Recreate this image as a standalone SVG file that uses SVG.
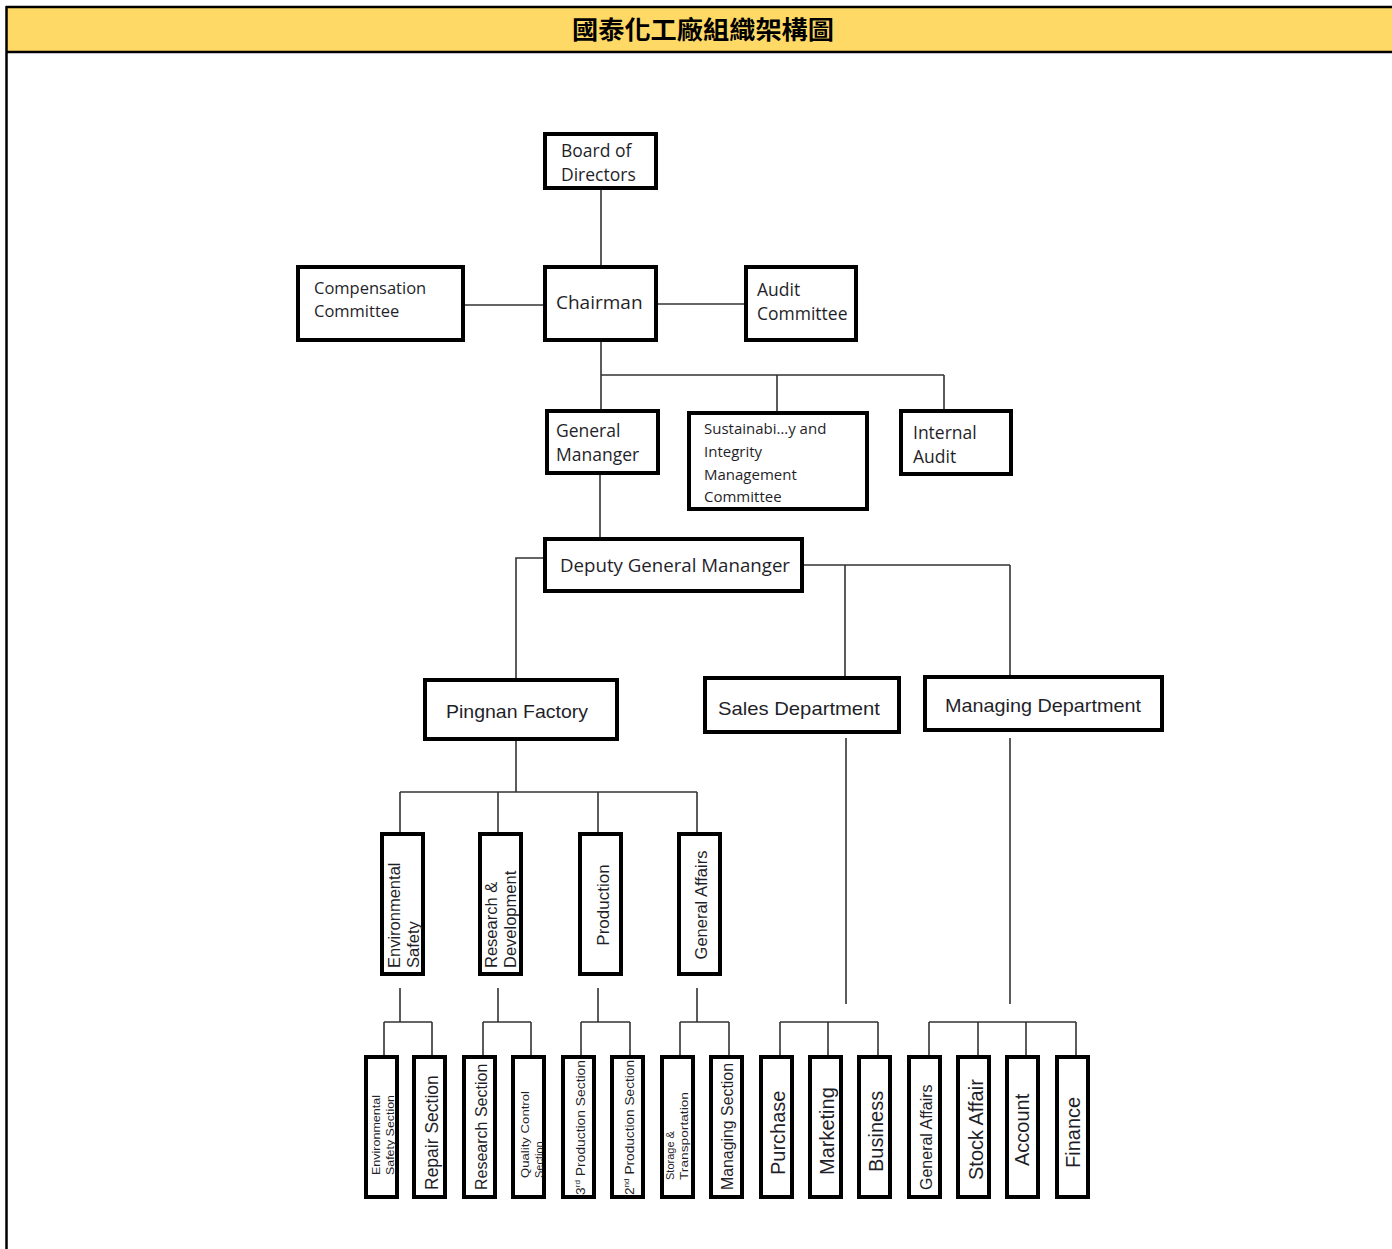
<svg xmlns="http://www.w3.org/2000/svg" width="1392" height="1249" viewBox="0 0 1392 1249">
<style>
.box{fill:#fff;stroke:#000;stroke-width:4}
.ln{fill:none;stroke:#333;stroke-width:1.6}
.t1{font-family:"Open Sans","DejaVu Sans",sans-serif;fill:#1f1f2a}
.t2{font-family:"Liberation Sans",Arial,sans-serif;fill:#1f1f2a}
</style>
<rect x="0" y="0" width="1392" height="1249" fill="#fff"/>
<rect x="6" y="6" width="1390" height="46" fill="#FFD966"/>
<line x1="6" y1="7" x2="1392" y2="7" stroke="#000" stroke-width="2.5"/>
<line x1="6" y1="52" x2="1392" y2="52" stroke="#000" stroke-width="2.5"/>
<line x1="6.5" y1="6" x2="6.5" y2="1249" stroke="#000" stroke-width="2.5"/>
<text x="703" y="39" text-anchor="middle" font-family="'Noto Sans CJK TC','Noto Sans CJK SC',sans-serif" font-size="25" font-weight="bold" fill="#000" textLength="262" lengthAdjust="spacingAndGlyphs">國泰化工廠組織架構圖</text>

<g id="connectors">
<path class="ln" d="M601 189V266M464 305H544M657 304H745M601 341V410M601 375H944M777 375V412M944 375V410"/>
<path class="ln" d="M600 474V538M544 558H516V679M803 565H1010M845 565V677M1010 565V676"/>
<path class="ln" d="M516 740V792M400 792H697M400 792V833M498 792V833M598 792V833M697 792V833"/>
<path class="ln" d="M400 988V1022M384 1022H432M384 1022V1056M432 1022V1056"/>
<path class="ln" d="M498 988V1022M483 1022H531M483 1022V1056M531 1022V1056"/>
<path class="ln" d="M598 988V1022M581 1022H630M581 1022V1056M630 1022V1056"/>
<path class="ln" d="M697 988V1022M680 1022H729M680 1022V1056M729 1022V1056"/>
<path class="ln" d="M846 738V1004M780 1022H878M780 1022V1056M828 1022V1056M878 1022V1056"/>
<path class="ln" d="M1010 738V1004M929 1022H1076M929 1022V1056M978 1022V1056M1026 1022V1056M1076 1022V1056"/>
</g>

<g id="board"><rect class="box" x="545" y="134" width="111" height="54"/>
<text class="t1" font-size="17.5"><tspan x="561" y="157">Board of</tspan><tspan x="561" y="181">Directors</tspan></text></g>
<g id="chairman"><rect class="box" x="545" y="267" width="111" height="73"/>
<text class="t1" font-size="19" x="556" y="309">Chairman</text></g>
<g id="compensation"><rect class="box" x="298" y="267" width="165" height="73"/>
<text class="t1" font-size="16.5"><tspan x="314" y="294">Compensation</tspan><tspan x="314" y="317">Committee</tspan></text></g>
<g id="audit"><rect class="box" x="746" y="267" width="110" height="73"/>
<text class="t1" font-size="17.5"><tspan x="757" y="296">Audit</tspan><tspan x="757" y="320">Committee</tspan></text></g>
<g id="gm"><rect class="box" x="547" y="411" width="111" height="62"/>
<text class="t1" font-size="17.5"><tspan x="556" y="437">General</tspan><tspan x="556" y="461">Mananger</tspan></text></g>
<g id="sustainability"><rect class="box" x="689" y="413" width="178" height="96"/>
<text class="t1" font-size="15"><tspan x="704" y="434">Sustainabi…y and</tspan><tspan x="704" y="457">Integrity</tspan><tspan x="704" y="480">Management</tspan><tspan x="704" y="502">Committee</tspan></text></g>
<g id="internal-audit"><rect class="box" x="901" y="411" width="110" height="63"/>
<text class="t1" font-size="17.5"><tspan x="913" y="439">Internal</tspan><tspan x="913" y="463">Audit</tspan></text></g>
<g id="deputy"><rect class="box" x="545" y="539" width="257" height="52"/>
<text class="t1" font-size="18" x="560" y="572" textLength="230" lengthAdjust="spacingAndGlyphs">Deputy General Mananger</text></g>
<g id="pingnan"><rect class="box" x="425" y="680" width="192" height="59"/>
<text class="t2" font-size="19" x="517" y="718" text-anchor="middle" textLength="142" lengthAdjust="spacingAndGlyphs">Pingnan Factory</text></g>
<g id="sales"><rect class="box" x="705" y="678" width="194" height="54"/>
<text class="t2" font-size="19" x="718" y="715" textLength="162" lengthAdjust="spacingAndGlyphs">Sales Department</text></g>
<g id="managing"><rect class="box" x="925" y="677" width="237" height="53"/>
<text class="t2" font-size="19" x="945" y="712" textLength="196" lengthAdjust="spacingAndGlyphs">Managing Department</text></g>

<g id="env-safety"><rect class="box" x="382" y="834" width="41" height="140"/>
<text class="t2" font-size="16.5" transform="translate(400,968) rotate(-90)">Environmental</text>
<text class="t2" font-size="16.5" transform="translate(419,968) rotate(-90)">Safety</text></g>
<g id="rd"><rect class="box" x="480" y="834" width="41" height="140"/>
<text class="t2" font-size="16.5" transform="translate(497,968) rotate(-90)">Research &amp;</text>
<text class="t2" font-size="16.5" transform="translate(516,968) rotate(-90)">Development</text></g>
<g id="production"><rect class="box" x="580" y="834" width="41" height="140"/>
<text class="t2" font-size="17" text-anchor="middle" transform="translate(609,905) rotate(-90)">Production</text></g>
<g id="general-affairs"><rect class="box" x="679" y="834" width="41" height="140"/>
<text class="t2" font-size="16.5" text-anchor="middle" transform="translate(707,905) rotate(-90)">General Affairs</text></g>

<g id="env-safety-section"><rect class="box" x="366" y="1057" width="31" height="140"/>
<text class="t2" font-size="11" transform="translate(380,1175) rotate(-90)" textLength="80" lengthAdjust="spacingAndGlyphs">Environmental</text>
<text class="t2" font-size="11" transform="translate(394,1175) rotate(-90)" textLength="80" lengthAdjust="spacingAndGlyphs">Safety Section</text></g>
<g id="repair-section"><rect class="box" x="414" y="1057" width="31" height="140"/>
<text class="t2" font-size="17.5" transform="translate(438,1190) rotate(-90)">Repair Section</text></g>
<g id="research-section"><rect class="box" x="464" y="1057" width="31" height="140"/>
<text class="t2" font-size="16" transform="translate(487,1190) rotate(-90)">Research Section</text></g>
<g id="quality-control-section"><rect class="box" x="513" y="1057" width="31" height="140"/>
<text class="t2" font-size="11" transform="translate(529,1178) rotate(-90)" textLength="87" lengthAdjust="spacingAndGlyphs">Quality Control</text>
<text class="t2" font-size="11" transform="translate(543,1178) rotate(-90)">Section</text></g>
<g id="prod3-section"><rect class="box" x="563" y="1057" width="31" height="140"/>
<text class="t2" font-size="13.5" transform="translate(585,1195) rotate(-90)" textLength="135" lengthAdjust="spacingAndGlyphs">3<tspan font-size="8" dy="-5">rd</tspan><tspan dy="5"> Production Section</tspan></text></g>
<g id="prod2-section"><rect class="box" x="612" y="1057" width="31" height="140"/>
<text class="t2" font-size="13.5" transform="translate(634,1195) rotate(-90)" textLength="135" lengthAdjust="spacingAndGlyphs">2<tspan font-size="8" dy="-5">nd</tspan><tspan dy="5"> Production Section</tspan></text></g>
<g id="storage-section"><rect class="box" x="662" y="1057" width="31" height="140"/>
<text class="t2" font-size="11" transform="translate(674,1180) rotate(-90)">Storage &amp;</text>
<text class="t2" font-size="11" transform="translate(688,1180) rotate(-90)" textLength="88" lengthAdjust="spacingAndGlyphs">Transportation</text></g>
<g id="managing-section"><rect class="box" x="711" y="1057" width="31" height="140"/>
<text class="t2" font-size="16" transform="translate(733,1190) rotate(-90)" textLength="127" lengthAdjust="spacingAndGlyphs">Managing Section</text></g>
<g id="purchase"><rect class="box" x="761" y="1057" width="31" height="140"/>
<text class="t2" font-size="20" transform="translate(785,1175) rotate(-90)">Purchase</text></g>
<g id="marketing"><rect class="box" x="810" y="1057" width="31" height="140"/>
<text class="t2" font-size="20" transform="translate(834,1175) rotate(-90)">Marketing</text></g>
<g id="business"><rect class="box" x="859" y="1057" width="31" height="140"/>
<text class="t2" font-size="20" transform="translate(883,1172) rotate(-90)">Business</text></g>
<g id="ga-section"><rect class="box" x="909" y="1057" width="31" height="140"/>
<text class="t2" font-size="16" transform="translate(932,1190) rotate(-90)">General Affairs</text></g>
<g id="stock-affair"><rect class="box" x="958" y="1057" width="31" height="140"/>
<text class="t2" font-size="20" transform="translate(983,1180) rotate(-90)">Stock Affair</text></g>
<g id="account"><rect class="box" x="1007" y="1057" width="31" height="140"/>
<text class="t2" font-size="20" transform="translate(1029,1166) rotate(-90)">Account</text></g>
<g id="finance"><rect class="box" x="1057" y="1057" width="31" height="140"/>
<text class="t2" font-size="20" transform="translate(1080,1168) rotate(-90)">Finance</text></g>
</svg>
